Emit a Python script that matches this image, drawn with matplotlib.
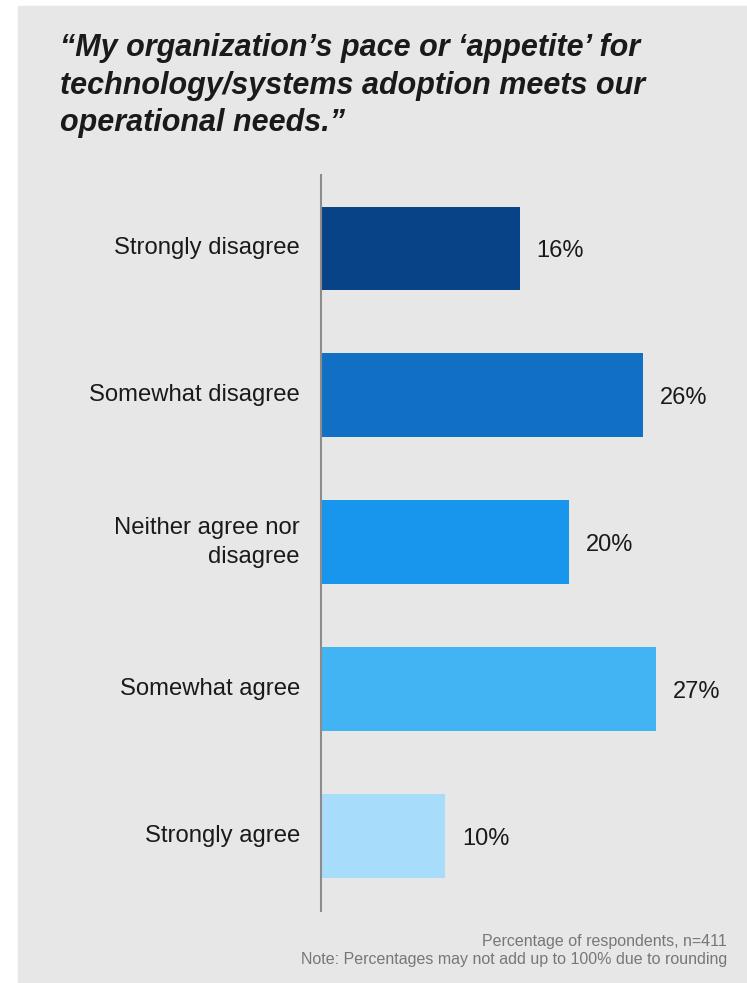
import matplotlib
matplotlib.use("Agg")
import matplotlib.pyplot as plt

categories = ["Strongly disagree", "Somewhat disagree", "Neither agree nor\ndisagree",
              "Somewhat agree", "Strongly agree"]
values = [16, 26, 20, 27, 10]
bar_colors = ["#084387", "#1170c4", "#1895ec", "#42b3f3", "#a7dcfa"]

title = ("\u201cMy organization\u2019s pace or \u2018appetite\u2019 for\n"
         "technology/systems adoption meets our\n"
         "operational needs.\u201d")
footnote = ("Percentage of respondents, n=411\n"
            "Note: Percentages may not add up to 100% due to rounding")

BG = "#e7e7e7"
plt.rcParams["font.family"] = ["Liberation Sans", "DejaVu Sans"]

W, H = 747, 983
fig = plt.figure(figsize=(W / 100, H / 100), dpi=100, facecolor="white")
# gray panel behind everything
fig.patches.append(plt.Rectangle((18 / W, 0), 1 - 18 / W, 1 - 6 / H,
                                 transform=fig.transFigure, color=BG, zorder=-10))

# axes: left spine at x=321 px, from y=175 to 911 px
ax_left = 321 / W
ax_top, ax_bottom = 1 - 175 / H, 1 - 911 / H
ax = fig.add_axes([ax_left, ax_bottom, 1.0 - ax_left, ax_top - ax_bottom])
ax.set_facecolor("none")
px_per_pct = 12.375
ax.set_xlim(0, (W - 321) / px_per_pct)

ypos = list(range(len(categories)))
ax.barh(ypos, values, height=0.57, color=bar_colors, left=0.06)
ax.set_ylim(len(categories) - 0.49, -0.5)

for y, v, lab in zip(ypos, values, categories):
    ax.text(v + 1.4, y + 0.02, f"{v}%", va="center", ha="left", fontsize=17,
            color="#1a1a1a")
    ax.text(-1.7, y, lab, va="center", ha="right", fontsize=17.2, color="#1a1a1a",
            linespacing=1.4)

for s in ("top", "right", "bottom"):
    ax.spines[s].set_visible(False)
ax.spines["left"].set_color("#8c8c8c")
ax.spines["left"].set_linewidth(1.5)
ax.set_xticks([])
ax.set_yticks([])

fig.text(60 / W, 1 - 33 / H, title, ha="left", va="top", fontsize=22,
         fontweight="bold", style="italic", color="#1a1a1a",
         linespacing=1.33)
fig.text(727 / W, 1 - 934 / H, footnote, ha="right", va="top", fontsize=11.5,
         color="#777777", linespacing=1.25, multialignment="right")

fig.savefig("out.png", dpi=100, facecolor="white")
